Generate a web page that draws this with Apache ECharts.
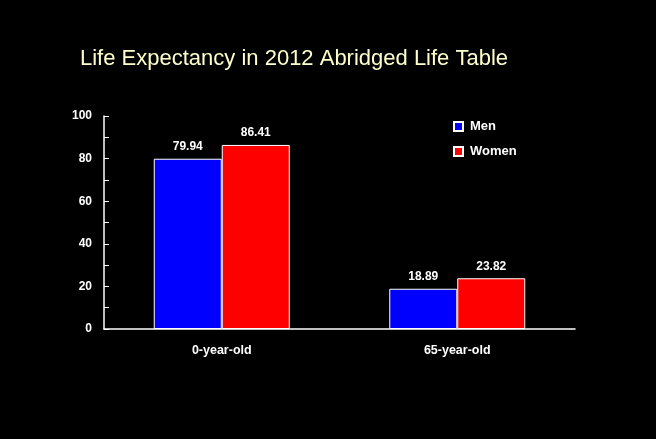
<!DOCTYPE html>
<html>
<head>
<meta charset="utf-8">
<script src="https://cdn.jsdelivr.net/npm/echarts@6/dist/echarts.min.js"></script>
<style>
html,body{margin:0;padding:0;background:#000;}
#chart{width:656px;height:439px;}
</style>
</head>
<body>
<div id="chart"></div>
<script>
const categories = ['0-year-old', '65-year-old'];
const men = [79.94, 18.89];
const women = [86.41, 23.82];
const yTicks = [0, 20, 40, 60, 80, 100];

const chart = echarts.init(document.getElementById('chart'));
const font = 'Liberation Sans, Arial, sans-serif';
chart.setOption({
  backgroundColor: '#000',
  animation: false,
  title: {
    text: 'Life Expectancy in 2012 Abridged Life Table',
    left: 75, top: 43,
    textStyle: { color: '#FFFFCC', fontFamily: font, fontSize: 22, fontWeight: 'normal' }
  },
  legend: {
    orient: 'vertical',
    left: 453, top: 120, padding: 0,
    itemWidth: 9, itemHeight: 9, itemGap: 12,
    icon: 'rect',
    textStyle: { color: '#fff', fontFamily: font, fontSize: 13, fontWeight: 'bold', padding: [0, 0, 0, 2] },
    data: ['Men', 'Women']
  },
  grid: { left: 104, right: 81, top: 116, bottom: 110 },
  xAxis: {
    type: 'category',
    data: categories,
    axisLine: { lineStyle: { color: '#fff', width: 1.5 } },
    axisTick: { show: false },
    axisLabel: { color: '#fff', fontFamily: font, fontSize: 12.5, fontWeight: 'bold', margin: 15 }
  },
  yAxis: {
    type: 'value',
    min: yTicks[0], max: yTicks[yTicks.length - 1], interval: 20,
    splitLine: { show: false },
    axisLine: { show: true, lineStyle: { color: '#fff', width: 1.5 } },
    axisTick: { show: true, inside: true, length: 5, lineStyle: { color: '#fff' } },
    minorTick: { show: true, splitNumber: 2, length: 5, lineStyle: { color: '#fff' } },
    axisLabel: { color: '#fff', fontFamily: font, fontSize: 12, fontWeight: 'bold', margin: 12 }
  },
  series: [
    {
      name: 'Men', type: 'bar', data: men,
      barWidth: 68, barGap: '0%',
      itemStyle: { color: '#0000FF', borderColor: '#fff', borderWidth: 1 },
      label: { show: true, position: 'top', distance: 6, color: '#fff', fontFamily: font, fontSize: 12, fontWeight: 'bold', formatter: p => p.value.toFixed(2) }
    },
    {
      name: 'Women', type: 'bar', data: women,
      barWidth: 68, barGap: '0%',
      itemStyle: { color: '#FF0000', borderColor: '#fff', borderWidth: 1 },
      label: { show: true, position: 'top', distance: 6, color: '#fff', fontFamily: font, fontSize: 12, fontWeight: 'bold', formatter: p => p.value.toFixed(2) }
    }
  ]
});
</script>
</body>
</html>
